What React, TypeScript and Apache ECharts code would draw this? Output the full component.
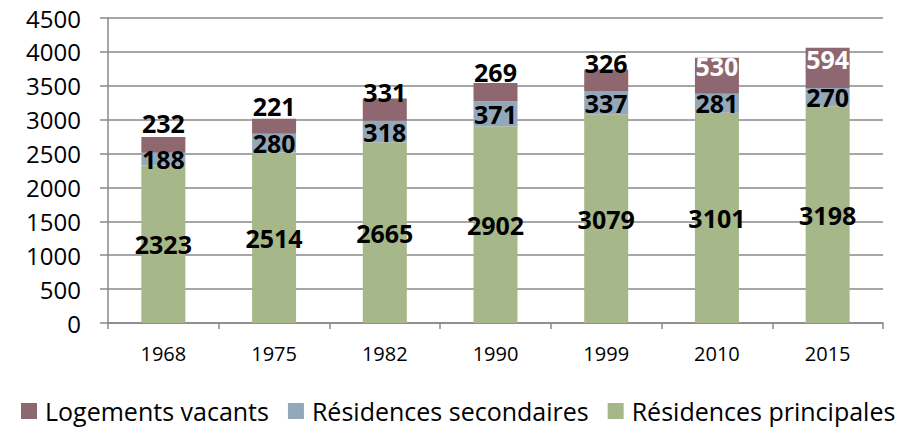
import React, { useEffect, useRef } from "react";
import * as echarts from "echarts";

const years = ["1968", "1975", "1982", "1990", "1999", "2010", "2015"];
const principales = [2323, 2514, 2665, 2902, 3079, 3101, 3198];
const secondaires = [188, 280, 318, 371, 337, 281, 270];
const vacants = [232, 221, 331, 269, 326, 530, 594];

// label placement for the "vacants" series (style only)
const vacantLabelDistance = [2, 0, -6, -2, -6, -21, -24];
const vacantLabelColor = ["#000", "#000", "#000", "#000", "#000", "#fff", "#fff"];

const FONT = "Open Sans";

export default function App() {
  const ref = useRef<HTMLDivElement>(null);
  useEffect(() => {
    document.body.style.margin = "0";
    if (!ref.current) return;
    const chart = echarts.init(ref.current, null, { renderer: "svg" });
    const labelBase = {
      show: true,
      fontFamily: FONT,
      fontWeight: "bold" as const,
      fontSize: 25,
      color: "#000",
    };
    chart.setOption({
      animation: false,
      textStyle: { fontFamily: FONT },
      grid: { left: 108, right: 27, top: 18, bottom: 105 },
      legend: {
        top: 396,
        left: 21,
        padding: 0,
        icon: "rect",
        itemWidth: 16,
        itemHeight: 16,
        itemGap: 19,
        data: ["Logements vacants", "Résidences secondaires", "Résidences principales"],
        textStyle: {
          fontFamily: FONT,
          fontSize: 25,
          color: "#000",
          lineHeight: 30,
          padding: [0, 0, 0, 3],
        },
      },
      xAxis: {
        type: "category",
        data: years,
        axisLine: { lineStyle: { color: "#898989", width: 1.5 } },
        axisTick: { show: true, length: 6, lineStyle: { color: "#898989", width: 1.5 } },
        axisLabel: { fontFamily: FONT, fontSize: 20, color: "#000", margin: 20 },
      },
      yAxis: {
        type: "value",
        min: 0,
        max: 4500,
        interval: 500,
        axisLine: { show: true, lineStyle: { color: "#898989", width: 1.5 } },
        axisTick: { show: true, length: 8, lineStyle: { color: "#898989", width: 1.5 } },
        splitLine: { lineStyle: { color: "#898989", width: 1.5 } },
        axisLabel: {
          fontFamily: FONT,
          fontSize: 24,
          color: "#000",
          margin: 27,
          formatter: (v: number) => String(v),
        },
      },
      series: [
        {
          name: "Résidences principales",
          type: "bar",
          stack: "total",
          barWidth: 44,
          itemStyle: { color: "#a6b78a" },
          label: { ...labelBase, position: "inside" },
          data: principales,
        },
        {
          name: "Résidences secondaires",
          type: "bar",
          stack: "total",
          barWidth: 44,
          itemStyle: { color: "#93a8ba" },
          label: { ...labelBase, position: "inside" },
          data: secondaires,
        },
        {
          name: "Logements vacants",
          type: "bar",
          stack: "total",
          barWidth: 44,
          itemStyle: { color: "#8f6770" },
          label: { ...labelBase, position: "top" },
          data: vacants.map((v, i) => ({
            value: v,
            label: { distance: vacantLabelDistance[i], color: vacantLabelColor[i] },
          })),
        },
      ],
    });
    return () => chart.dispose();
  }, []);
  return <div ref={ref} style={{ width: 910, height: 428 }} />;
}
